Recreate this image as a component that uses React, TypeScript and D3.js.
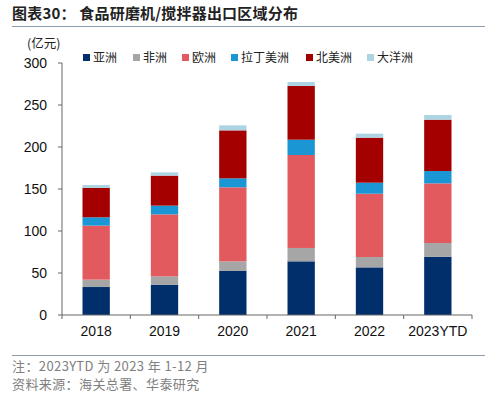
import * as d3 from 'd3';

const years = ['2018', '2019', '2020', '2021', '2022', '2023YTD'];
const regions = ['亚洲', '非洲', '欧洲', '拉丁美洲', '北美洲', '大洋洲'];
const colors = ['#002F6C', '#A6A6A6', '#E35A5E', '#1A96D4', '#A50000', '#ADD4E3'];

// 亿元
const asia = [33.3, 36.1, 52.4, 63.9, 56.7, 69.4];
const africa = [8.8, 9.9, 11.5, 15.9, 12.3, 16.3];
const europe = [64.3, 73.8, 88.1, 110.7, 75.4, 71.0];
const latam = [9.9, 10.4, 10.7, 18.2, 13.1, 14.7];
const northAmerica = [34.9, 35.7, 57.1, 63.9, 53.6, 61.1];
const oceania = [3.6, 3.9, 6.0, 4.8, 4.8, 5.6];

const yTicks = [0, 50, 100, 150, 200, 250, 300];

const CJK = '"Noto Sans CJK SC", sans-serif';
const LATIN = '"Liberation Sans", Arial, sans-serif';

export default function App() {
  const width = 500;
  const height = 398;
  const left = 62;
  const right = 472;
  const top = 63;
  const bottom = 315;

  const series = [asia, africa, europe, latam, northAmerica, oceania];
  const rows = years.map((y, i) => {
    const r: Record<string, number | string> = { year: y };
    regions.forEach((k, j) => (r[k] = series[j][i]));
    return r;
  });
  const stacked = d3.stack<any>().keys(regions)(rows);

  const x = d3.scaleBand().domain(years).range([left, right]).paddingInner(0.6).paddingOuter(0.3);
  const y = d3.scaleLinear().domain([0, 300]).range([bottom, top]);
  const step = (right - left) / years.length;

  const legendX = [83, 133, 182, 231, 306, 367];

  return (
    <svg width={width} height={height} style={{ position: 'absolute', left: 0, top: 0, background: '#fff' }}>
      <text x={12} y={19} fontFamily={CJK} fontWeight="bold" fontSize={15} fill="#222" letterSpacing={0.2}>
        图表30：  食品研磨机/搅拌器出口区域分布
      </text>
      <line x1={12} x2={485} y1={26.5} y2={26.5} stroke="#8C9BAE" strokeWidth={1} />

      <text x={27} y={48} fontFamily={CJK} fontSize={12.5} fill="#222">(亿元)</text>

      {regions.map((r, i) => (
        <g key={r} transform={`translate(${legendX[i]},57.5)`}>
          <rect x={0} y={-3.5} width={7} height={7} fill={colors[i]} />
          <text x={10} y={4.5} fontFamily={CJK} fontSize={12} fill="#222">{r}</text>
        </g>
      ))}

      {stacked.map((s, i) => (
        <g key={s.key} fill={colors[i]}>
          {s.map((d, j) => (
            <rect
              key={j}
              x={x(years[j])}
              width={x.bandwidth()}
              y={y(d[1])}
              height={y(d[0]) - y(d[1])}
            />
          ))}
        </g>
      ))}

      <line x1={left} x2={left} y1={top} y2={bottom} stroke="#666" />
      {yTicks.map(t => (
        <g key={t}>
          <line x1={left - 4} x2={left} y1={y(t)} y2={y(t)} stroke="#666" />
          <text x={47} y={y(t) + 5} textAnchor="end" fontFamily={LATIN} fontSize={14} fill="#111">{t}</text>
        </g>
      ))}

      <line x1={left} x2={right} y1={bottom} y2={bottom} stroke="#666" />
      {d3.range(years.length + 1).map(i => (
        <line key={i} x1={left + i * step} x2={left + i * step} y1={bottom} y2={bottom + 4} stroke="#666" />
      ))}
      {years.map(yr => (
        <text key={yr} x={(x(yr) as number) + x.bandwidth() / 2} y={336} textAnchor="middle" fontFamily={LATIN} fontSize={14} fill="#111">
          {yr}
        </text>
      ))}

      <line x1={12} x2={485} y1={355.5} y2={355.5} stroke="#8C9BAE" strokeWidth={1} />
      <text x={12} y={371} fontFamily={CJK} fontSize={13} fill="#808080" letterSpacing={0.4}>注：2023YTD 为 2023 年 1-12 月</text>
      <text x={12} y={389} fontFamily={CJK} fontSize={13} fill="#808080" letterSpacing={0.4}>资料来源：海关总署、华泰研究</text>
    </svg>
  );
}
